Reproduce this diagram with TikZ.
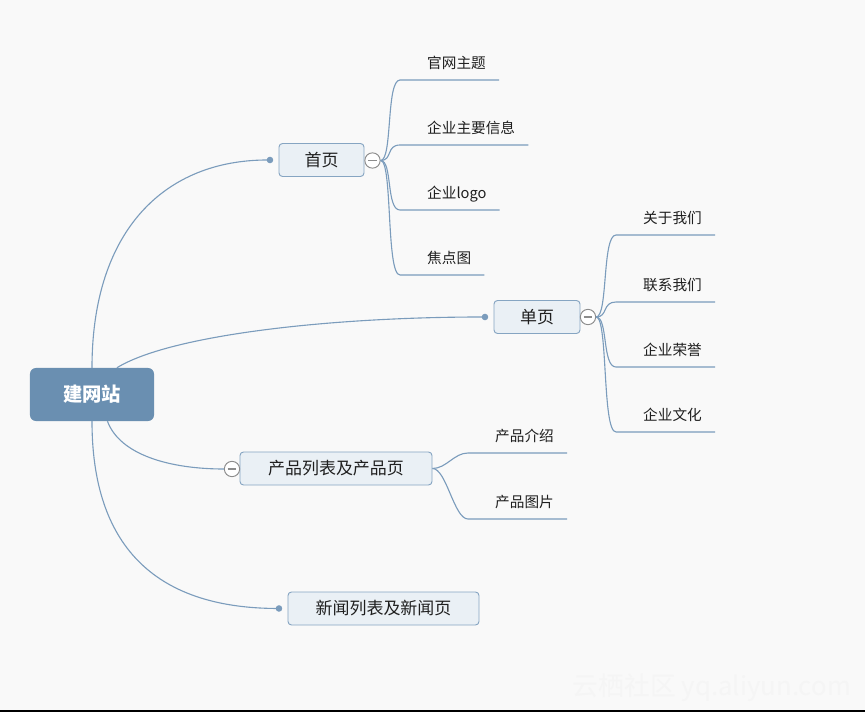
\documentclass[tikz,border=0pt]{standalone}
\usepackage{fontspec}
\newfontfamily\cjk{Noto Sans CJK SC}
\usetikzlibrary{arrows.meta}
\definecolor{bgc}{HTML}{F9F9F9}
\definecolor{linec}{HTML}{7B9CBC}
\definecolor{rootc}{HTML}{6A8FB1}
\definecolor{topicc}{HTML}{EAF0F5}
\definecolor{topicb}{HTML}{86A5C2}
\definecolor{foldc}{HTML}{8C8C8C}

\begin{document}
\begin{tikzpicture}[x=0.03cm, y=-0.03cm, every node/.style={font=\cjk, text=black!88},
	root/.style={fill=rootc, rounded corners=5pt, minimum width=3.72cm, minimum height=1.59cm, text=white, font=\cjk\bfseries\fontsize{16.5}{18}\selectfont},
	topic/.style={draw=topicb, fill=topicc, line width=0.8pt, rounded corners=3pt, minimum height=0.99cm, font=\cjk\fontsize{14.5}{16}\selectfont},
	leaf/.style={anchor=south west, inner xsep=0.39cm, inner ysep=0.3cm, text height=0.88em, text depth=0.12em, font=\cjk\fontsize{12.5}{14}\selectfont},
	fold/.style={circle, draw=foldc, fill=white, line width=0.8pt, minimum size=0.46cm, inner sep=0pt, path picture={\draw[foldc, line width=0.9pt] ([xshift=-0.13cm]path picture bounding box.center) -- ([xshift=0.13cm]path picture bounding box.center);}},
	link/.style={draw=linec, line width=0.95pt},
	dot/.style={-{Circle[length=5.5pt]}, linec}]
	\fill[bgc] (0,0) rectangle (865,712);
	\fill[black] (0,710) rectangle (865,712);
	\node[font=\cjk\fontsize{22}{23}\selectfont, text=black!4, anchor=east] (mark) at (855,688) {云栖社区 yq.aliyun.com};

	\node[root] (site) at (92,394.5) {建网站};
	\node[topic, minimum width=2.55cm] (home) at (321.5,160) {首页};
	\node[topic, minimum width=2.58cm] (single) at (537,317) {单页};
	\node[topic, minimum width=5.76cm] (prod) at (336,468.5) {产品列表及产品页};
	\node[topic, minimum width=5.73cm] (news) at (383.5,608.5) {新闻列表及新闻页};
	\node[fold] (homef) at (372.5,160.5) {};
	\node[fold] (singlef) at (588,317) {};
	\node[fold] (prodf) at (232,469) {};

	\node[leaf] (h1) at (414,80) {官网主题};
	\node[leaf] (h2) at (414,145) {企业主要信息};
	\node[leaf] (h3) at (414,210) {企业logo};
	\node[leaf] (h4) at (414,275) {焦点图};
	\node[leaf] (s1) at (630,235) {关于我们};
	\node[leaf] (s2) at (630,302) {联系我们};
	\node[leaf] (s3) at (630,367) {企业荣誉};
	\node[leaf] (s4) at (630,432) {企业文化};
	\node[leaf] (p1) at (482,453) {产品介绍};
	\node[leaf] (p2) at (482,519) {产品图片};

	\draw[link, dot] (site.north) .. controls (92,230) and (165,160) .. ([xshift=-0.16cm]home.west);
	\draw[link, dot] (site.47) .. controls (170,335) and (330,317) .. ([xshift=-0.16cm]single.west);
	\draw[link] (site.-60) .. controls (120,455) and (170,469) .. (prodf.west);
	\draw[link, dot] (site.south) .. controls (92,560) and (170,608) .. ([xshift=-0.16cm]news.west);

	\draw[link] (homef.east) .. controls +(12,0) and +(-14,0) .. ([xshift=-0.42cm]h1.south west) -- (h1.south east);
	\draw[link] (homef.east) .. controls +(12,0) and +(-14,0) .. ([xshift=-0.42cm]h2.south west) -- (h2.south east);
	\draw[link] (homef.east) .. controls +(12,0) and +(-14,0) .. ([xshift=-0.42cm]h3.south west) -- (h3.south east);
	\draw[link] (homef.east) .. controls +(12,0) and +(-14,0) .. ([xshift=-0.42cm]h4.south west) -- (h4.south east);
	\draw[link] (singlef.east) .. controls +(12,0) and +(-14,0) .. ([xshift=-0.42cm]s1.south west) -- (s1.south east);
	\draw[link] (singlef.east) .. controls +(12,0) and +(-14,0) .. ([xshift=-0.42cm]s2.south west) -- (s2.south east);
	\draw[link] (singlef.east) .. controls +(12,0) and +(-14,0) .. ([xshift=-0.42cm]s3.south west) -- (s3.south east);
	\draw[link] (singlef.east) .. controls +(12,0) and +(-14,0) .. ([xshift=-0.42cm]s4.south west) -- (s4.south east);
	\draw[link] (prod.east) .. controls +(14,0) and +(-14,0) .. ([xshift=-0.42cm]p1.south west) -- (p1.south east);
	\draw[link] (prod.east) .. controls +(14,0) and +(-14,0) .. ([xshift=-0.42cm]p2.south west) -- (p2.south east);
\end{tikzpicture}
\end{document}
